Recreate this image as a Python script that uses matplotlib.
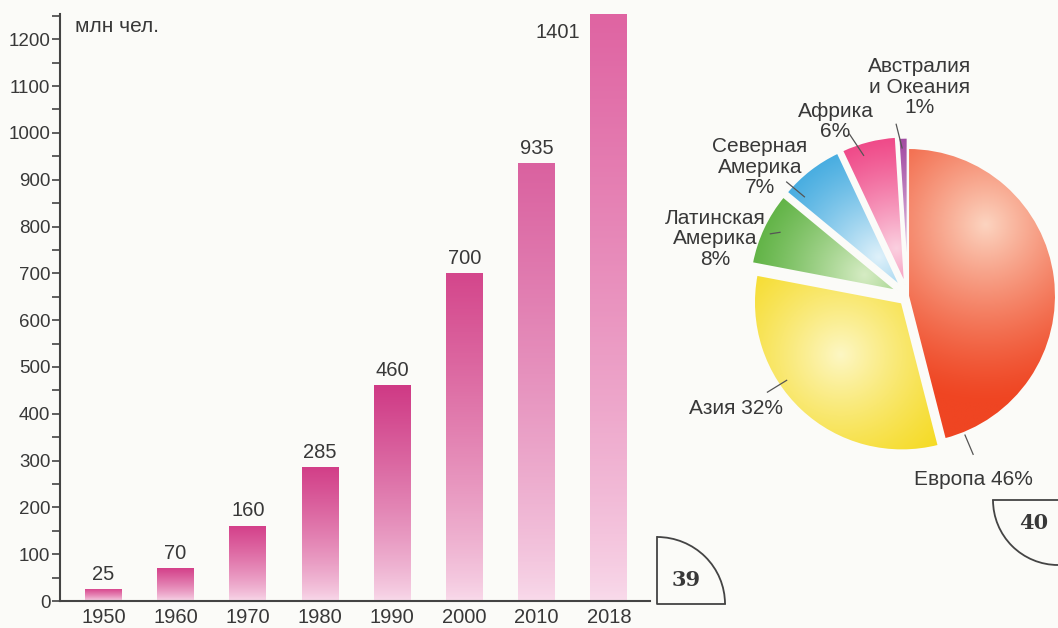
import matplotlib.pyplot as plt
import numpy as np
from matplotlib.colors import LinearSegmentedColormap, to_rgb
from matplotlib.patches import Arc

plt.rcParams['font.family'] = ['Liberation Sans', 'DejaVu Sans']

# population, millions
years = ['1950', '1960', '1970', '1980', '1990', '2000', '2010', '2018']
people = [25, 70, 160, 285, 460, 700, 935, 1401]
bar_tops = ['#d8498f', '#d4418a', '#d4418a', '#d23f88', '#cf3a85', '#d4478c', '#da62a0', '#dd5a9c']
bar_bottom = '#f9dbeb'

# shares by region, %
regions = ['Европа', 'Азия', 'Латинская\nАмерика', 'Северная\nАмерика', 'Африка', 'Австралия\nи Океания']
shares = [46, 32, 8, 7, 6, 1]
base_colors = ['#ef4522', '#f5d91c', '#56ae3a', '#38a6de', '#ee3b7f', '#9b3d9b']
light_colors = ['#fcd4c0', '#fdf7c4', '#d6ecc4', '#dff1fa', '#fbd0e0', '#e3c4e3']
explode = [0, 0.06, 0.08, 0.08, 0.08, 0.07]

bg = '#fbfbf8'
ink = '#383838'
W, H = 1058, 628

fig = plt.figure(figsize=(W / 100, H / 100), dpi=100, facecolor=bg)

# ---- bar chart ----
ax = fig.add_axes([60 / W, (H - 601) / H, 590 / W, 587 / H])
ax.set_facecolor('none')
x = np.arange(len(years))
bars = ax.bar(x, people, width=0.51, color='none', edgecolor='none', zorder=2)
grad = np.linspace(0, 1, 256).reshape(-1, 1)
for bar, top in zip(bars, bar_tops):
    cmap = LinearSegmentedColormap.from_list('bar', [bar_bottom, top])
    x0, w, h = bar.get_x(), bar.get_width(), bar.get_height()
    ax.imshow(grad ** 0.75, cmap=cmap, extent=(x0, x0 + w, 0, h), origin='lower',
              aspect='auto', zorder=2, interpolation='bilinear')

ax.set_xlim(-0.6, 7.57)
ax.set_ylim(0, 1254)
ax.set_yticks(range(0, 1201, 100))
ax.set_yticks(range(50, 1251, 50), minor=True)
ax.tick_params(axis='y', which='both', direction='out', length=6, width=1.2,
               color='#444444', labelsize=13.5, labelcolor=ink, pad=1)
ax.set_xticks(x, years)
ax.tick_params(axis='x', length=0, labelsize=14.5, labelcolor=ink, pad=5)
for side in ('top', 'right'):
    ax.spines[side].set_visible(False)
for side in ('left', 'bottom'):
    ax.spines[side].set_linewidth(1.5)
    ax.spines[side].set_color('#444444')

top_y = ax.get_ylim()[1]
for i, v in enumerate(people):
    if v < top_y:
        ax.text(i, v + 12, str(v), ha='center', va='bottom', fontsize=14.5, color=ink)
    else:
        ax.text(i - 0.4, top_y - 40, str(v), ha='right', va='center', fontsize=14.5, color=ink)

fig.text(75 / W, 1 - 27 / H, 'млн чел.', ha='left', va='center', fontsize=15, color=ink)

# ---- pie chart ----
pax = fig.add_axes([640 / W, (H - 560) / H, 418 / W, 530 / H])
wedges, _ = pax.pie(shares, explode=explode, startangle=90, counterclock=False,
                    radius=1, colors=base_colors,
                    wedgeprops=dict(edgecolor=bg, linewidth=1.5))

n = 500
gx, gy = np.meshgrid(np.linspace(-1.3, 1.3, n), np.linspace(-1.3, 1.3, n))
for k, wdg in enumerate(wedges):
    cx, cy = wdg.center
    if k == 0:
        hx, hy, fall = 0.52, 0.48, 1.2
    elif k == 1:
        hx, hy, fall = -0.46, -0.40, 1.0
    else:
        mid = np.radians((wdg.theta1 + wdg.theta2) / 2)
        hx, hy, fall = cx + 0.25 * np.cos(mid), cy + 0.25 * np.sin(mid), 0.9
    d = np.hypot(gx - hx, gy - hy)
    t = np.clip(1 - d / fall, 0, 1) ** 1.3
    c0 = np.array(to_rgb(base_colors[k]))
    c1 = np.array(to_rgb(light_colors[k]))
    img = c0 + (c1 - c0) * t[..., None]
    im = pax.imshow(img, extent=(-1.3, 1.3, -1.3, 1.3), origin='lower',
                    zorder=1, interpolation='bilinear')
    im.set_clip_path(wdg)
    wdg.set_facecolor('none')
    wdg.set_zorder(2)

pax.set_xlim(-1.811, 1.0135)
pax.set_ylim(-1.784, 1.797)
pax.set_aspect('equal')
pax.axis('off')

# labels: text centre, leader start, leader end (pie units)
label_pos = [(0.44, -1.24), (-1.16, -0.76), (-1.30, 0.385), (-1.0, 0.87), (-0.49, 1.18), (0.08, 1.41)]
leaders = [((0.44, -1.07), (0.385, -0.94)), ((-0.95, -0.65), (-0.82, -0.57)),
           ((-0.93, 0.42), (-0.865, 0.43)), ((-0.82, 0.77), (-0.70, 0.67)),
           ((-0.40, 1.10), (-0.30, 0.95)), ((-0.08, 1.16), (-0.04, 1.0))]
for k, (name, s) in enumerate(zip(regions, shares)):
    sep = ' ' if k < 2 else '\n'
    pax.text(*label_pos[k], f'{name}{sep}{s}%', ha='center', va='center',
             fontsize=15, color=ink, linespacing=1.1, zorder=4)
    (x1, y1), (x2, y2) = leaders[k]
    pax.plot([x1, x2], [y1, y2], color='#555555', lw=0.9, zorder=4)

# ---- page number tabs ----
over = fig.add_axes([0, 0, 1, 1])
over.set_xlim(0, W)
over.set_ylim(H, 0)
over.axis('off')
over.patch.set_alpha(0)
line_kw = dict(color='#444444', lw=1.3)
over.plot([657, 657, 725], [537, 604, 604], **line_kw)
over.add_patch(Arc((657, 604), 136, 134, theta1=270, theta2=360, **line_kw))
over.text(686, 580, '39', ha='center', va='center', fontsize=15, fontweight='bold',
          family='DejaVu Serif', color=ink)
over.plot([1058, 993], [500, 500], **line_kw)
over.add_patch(Arc((1058, 500), 130, 130, theta1=90, theta2=180, **line_kw))
over.text(1034, 523, '40', ha='center', va='center', fontsize=15, fontweight='bold',
          family='DejaVu Serif', color=ink)

fig.savefig('out.png', dpi=100, facecolor=bg)
